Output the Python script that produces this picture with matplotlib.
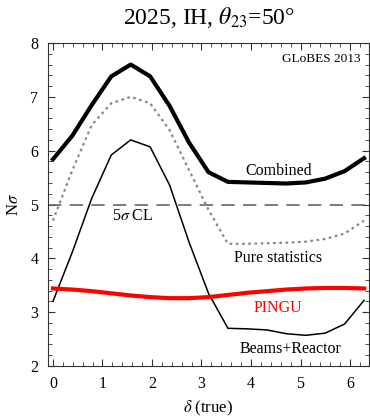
import numpy as np
import matplotlib
matplotlib.use("Agg")
import matplotlib.pyplot as plt
from matplotlib.ticker import MultipleLocator

plt.rcParams['font.family'] = ['Liberation Serif', 'DejaVu Serif']
plt.rcParams['mathtext.fontset'] = 'stix'

# delta (true) sampled in steps of pi/8
delta = np.arange(17) * np.pi / 8

combined = [5.84, 6.28, 6.85, 7.38, 7.60, 7.38, 6.83, 6.15, 5.60, 5.42,
            5.41, 5.40, 5.39, 5.41, 5.48, 5.62, 5.86]
pure_stat = [4.70, 5.64, 6.48, 6.88, 7.00, 6.88, 6.38, 5.64, 4.90, 4.27,
             4.27, 4.28, 4.29, 4.31, 4.36, 4.46, 4.70]
beams_reactor = [3.20, 4.12, 5.12, 5.92, 6.20, 6.07, 5.36, 4.30, 3.35, 2.70,
                 2.69, 2.67, 2.60, 2.57, 2.61, 2.78, 3.22]
pingu = [3.44, 3.42, 3.39, 3.35, 3.31, 3.28, 3.26, 3.26, 3.28, 3.32,
         3.36, 3.39, 3.42, 3.44, 3.45, 3.45, 3.44]
cl_level = 5

fig = plt.figure(figsize=(3.7, 4.18), dpi=100)
ax = fig.add_axes([48/370, 1-366/418, 321/370, 323/418])

ax.axhline(cl_level, color='#666666', lw=1.2, dashes=(8, 5))
ax.plot(delta, pure_stat, color='#888888', lw=1.6, ls=(0, (1.2, 1.6)))
ax.plot(delta, beams_reactor, color='black', lw=1.1)
ax.plot(delta, pingu, color='#ff0000', lw=3.0)
ax.plot(delta, combined, color='black', lw=3.0)

ax.set_xlim(-0.1, 2*np.pi + 0.1)
ax.set_ylim(2, 8)
ax.xaxis.set_major_locator(MultipleLocator(1))
ax.xaxis.set_minor_locator(MultipleLocator(0.2))
ax.yaxis.set_major_locator(MultipleLocator(1))
ax.yaxis.set_minor_locator(MultipleLocator(0.2))
ax.tick_params(which='both', direction='in', top=True, right=True,
               labelsize=11.5, color='#333333')
ax.tick_params(which='major', length=5, pad=7)
ax.tick_params(which='minor', length=3)
for s in ax.spines.values():
    s.set_color('#333333')
    s.set_linewidth(0.8)

fig.text(0.565, 0.958, r'2025, IH, $\theta_{23}$=50°', fontsize=17,
         ha='center', va='center')
ax.set_ylabel(r'N$\sigma$', fontsize=12, labelpad=6)
ax.set_xlabel(r'$\delta$ (true)', fontsize=12, labelpad=5)

ax.text(4.55, 5.62, 'Combined', fontsize=11.5, ha='center', va='center')
ax.text(4.55, 4.0, 'Pure statistics', fontsize=11.5, ha='center', va='center')
ax.text(1.62, 4.78, r'5$\sigma$ CL', fontsize=11.5, ha='center', va='center')
ax.text(4.55, 3.07, 'PINGU', fontsize=11.5, ha='center', va='center', color='#ff0000')
ax.text(4.8, 2.32, 'Beams+Reactor', fontsize=11.5, ha='center', va='center')
ax.text(6.22, 7.7, 'GLoBES 2013', fontsize=9.5, ha='right', va='center')

fig.savefig('out.png', dpi=100)
